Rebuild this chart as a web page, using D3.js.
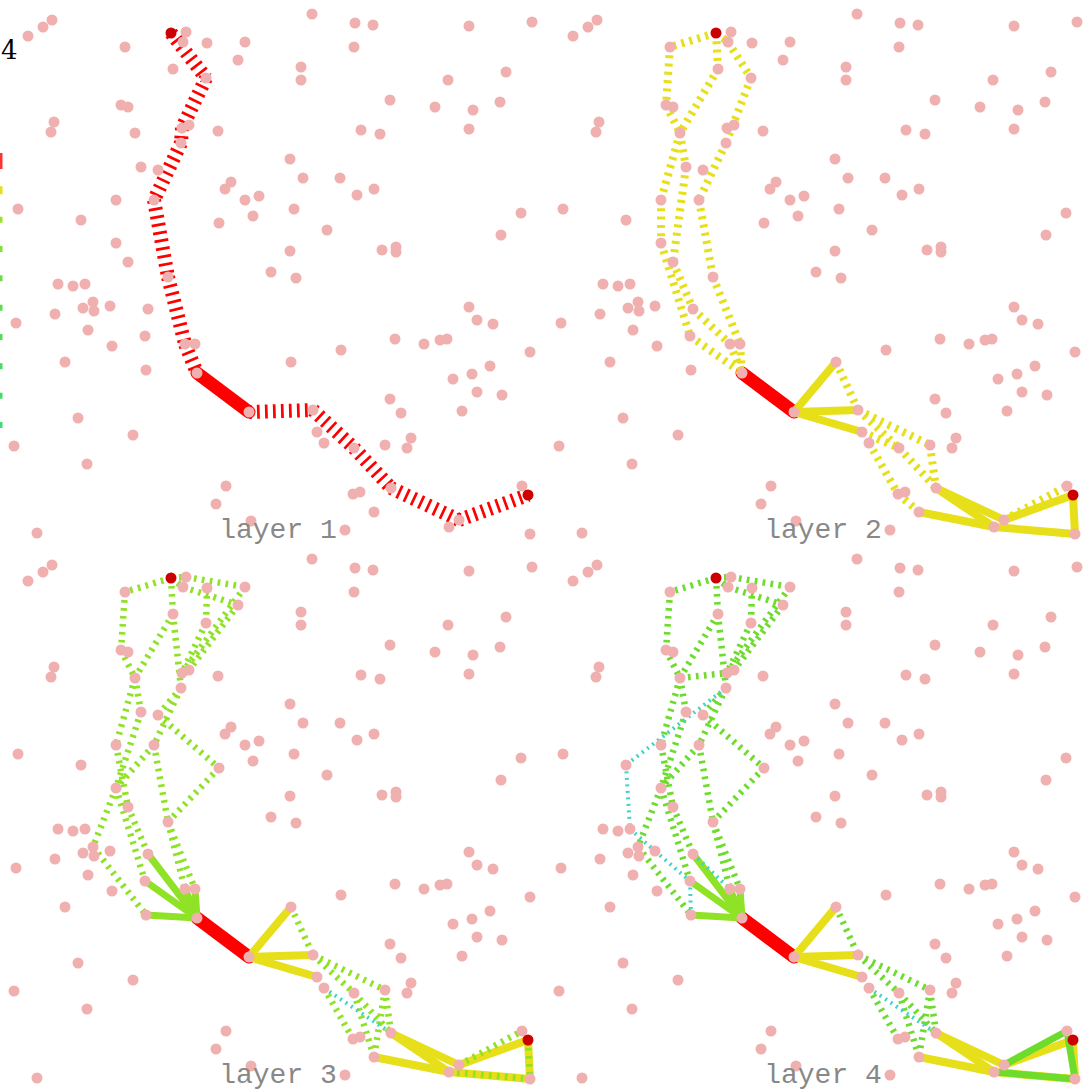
<!DOCTYPE html>
<html>
<head>
<meta charset="utf-8">
<script src="https://cdn.jsdelivr.net/npm/d3@7"></script>
<style>
body { margin:0; background:#fff; }
svg { display:block; }
</style>
</head>
<body>
<div id="chart"></div>
<script>
var width = 1090;
var height = 1090;
var panelSize = 545;

// panel titles
var layerNames = ["layer 1", "layer 2", "layer 3", "layer 4"];

// legend entries (layers), only the right tip shows at the page edge
var legendLayers = [1, 2, 3, 4, 5, 6, 7, 8, 9, 10];
var legendTitle = "4";

// scattered nodes, same for every panel (x, y in panel units 0..545)
var points = [
 [28,36],[43,27],[52,20],[125,47],[186,32],[183,42],[207,43],[245,42],[238,60],[173,69],
 [206,78],[121,105],[128,107],[54,122],[51,132],[135,133],[189,125],[182,128],[218,131],[181,143],
 [141,167],[158,170],[231,182],[225,189],[245,200],[259,196],[253,216],[219,223],[116,200],[154,200],
 [18,209],[81,220],[116,243],[128,262],[168,277],[271,272],
 [58,284],[73,286],[85,284],[93,302],[83,308],[94,311],[110,306],[148,309],[55,314],[16,323],
 [88,330],[145,336],[112,346],[185,344],[195,344],[65,362],[146,370],[197,373],[249,412],[78,418],
 [133,435],[14,446],[87,464],[226,486],[216,504],[251,521],[37,533],
 [296,278],[469,307],[477,320],[493,324],[395,339],[424,344],[440,340],[447,339],[341,350],[530,352],
 [291,362],[490,366],[472,374],[453,379],[477,392],[502,395],[390,399],[401,413],[462,411],[313,410],
 [317,432],[324,443],[354,448],[411,438],[407,448],[385,445],[391,488],[353,494],[360,492],[374,512],
 [459,520],[449,527],[522,486],[345,530],[530,534],
 [312,14],[355,23],[373,25],[469,26],[532,22],[354,47],[301,67],[301,80],[448,80],[506,72],
 [390,100],[435,107],[473,110],[500,102],[361,130],[380,134],[469,129],[290,159],[303,178],[340,178],
 [357,195],[374,189],[294,209],[327,230],[521,213],[501,235],[290,251],[382,250],[396,247],[396,252]
];

var source = [171,33];
var target = [528,495];

// chosen edges: [layer, x1, y1, x2, y2], drawn solid from that layer on
var chosenEdges = [
 [1,197,373,249,412],
 [2,249,412,291,362],[2,249,412,313,410],[2,249,412,317,432],
 [2,391,488,459,520],[2,391,488,449,527],[2,374,512,449,527],[2,449,527,530,534],
 [2,459,520,528,495],[2,528,495,530,534],
 [3,197,373,148,309],[3,197,373,145,336],[3,197,373,146,370],[3,197,373,185,344],[3,197,373,195,344],
 [4,459,520,522,486],[4,522,486,530,534],[4,449,527,530,534]
];

// candidate edges: [panel, colour layer, x1, y1, x2, y2], drawn hatched in that panel only
var candidateEdges = [
 // layer 1
 [1,1,171,33,206,78],[1,1,206,78,182,128],[1,1,182,128,181,143],[1,1,181,143,154,200],
 [1,1,154,200,168,277],[1,1,168,277,185,344],[1,1,185,344,197,373],
 [1,1,249,412,313,410],[1,1,313,410,354,448],[1,1,354,448,391,488],[1,1,391,488,459,520],
 [1,1,459,520,528,495],
 // layer 2
 [2,2,171,33,125,47],[2,2,125,47,121,105],[2,2,121,105,135,133],[2,2,171,33,173,69],
 [2,2,173,69,135,133],[2,2,135,133,116,200],[2,2,116,200,116,243],[2,2,135,133,141,167],
 [2,2,141,167,128,262],[2,2,128,262,148,309],[2,2,148,309,185,344],[2,2,185,344,197,373],
 [2,2,116,243,145,336],[2,2,145,336,197,373],[2,2,171,33,183,42],[2,2,183,42,206,78],
 [2,2,206,78,181,143],[2,2,181,143,154,200],[2,2,154,200,168,277],[2,2,168,277,195,344],
 [2,2,195,344,197,373],
 [2,2,291,362,313,410],[2,2,313,410,385,445],[2,2,313,410,354,448],[2,2,317,432,354,448],
 [2,2,324,443,353,494],[2,2,354,448,391,488],[2,2,385,445,391,488],[2,2,353,494,374,512],
 [2,2,459,520,522,486],
 // layer 3
 [3,3,171,33,125,47],[3,3,125,47,121,105],[3,3,121,105,135,133],[3,3,171,33,173,69],
 [3,3,173,69,135,133],[3,3,171,33,186,32],[3,3,171,33,183,42],[3,3,186,32,245,42],
 [3,3,183,42,238,60],[3,3,245,42,182,128],[3,3,238,60,189,125],[3,3,207,43,206,78],
 [3,3,206,78,182,128],[3,3,173,69,181,143],[3,3,181,143,158,170],[3,3,158,170,219,223],
 [3,3,219,223,168,277],[3,3,181,143,154,200],[3,3,154,200,168,277],[3,3,168,277,185,344],
 [3,3,168,277,195,344],[3,3,154,200,116,243],[3,3,135,133,116,200],[3,3,116,200,128,262],
 [3,3,116,243,93,302],[3,3,93,302,146,370],[3,3,128,262,148,309],[3,3,116,243,145,336],
 [3,3,135,133,141,167],[3,3,141,167,116,243],
 [3,3,291,362,313,410],[3,3,313,410,385,445],[3,3,313,410,354,448],[3,3,324,443,353,494],
 [3,3,354,448,391,488],[3,3,385,445,391,488],[3,3,354,448,374,512],[3,3,385,445,374,512],
 [3,5,324,443,391,488],
 [3,3,459,520,522,486],[3,3,449,527,530,534],[3,3,528,495,530,534],
 // layer 4
 [4,4,171,33,125,47],[4,4,125,47,121,105],[4,4,121,105,135,133],[4,4,171,33,173,69],
 [4,4,173,69,135,133],[4,4,171,33,186,32],[4,4,171,33,183,42],[4,4,186,32,245,42],
 [4,4,183,42,238,60],[4,4,245,42,182,128],[4,4,238,60,189,125],[4,4,207,43,206,78],
 [4,4,206,78,182,128],[4,4,173,69,181,143],[4,4,181,143,158,170],[4,4,158,170,219,223],
 [4,4,219,223,168,277],[4,4,181,143,154,200],[4,4,154,200,168,277],[4,4,168,277,185,344],
 [4,4,168,277,195,344],[4,4,154,200,116,243],[4,4,135,133,116,200],[4,4,116,200,128,262],
 [4,4,116,243,93,302],[4,4,93,302,146,370],[4,4,128,262,148,309],[4,4,116,243,145,336],
 [4,4,135,133,141,167],[4,4,141,167,116,243],[4,4,135,133,182,128],
 [4,5,181,143,81,220],[4,5,81,220,85,284],[4,5,85,284,110,306],[4,5,110,306,145,336],
 [4,5,145,336,146,370],[4,5,148,309,185,344],
 [4,4,291,362,313,410],[4,4,313,410,385,445],[4,4,313,410,354,448],[4,4,324,443,353,494],
 [4,4,354,448,391,488],[4,4,385,445,391,488],[4,4,354,448,374,512],[4,4,385,445,374,512],
 [4,5,324,443,391,488]
];

// styles
var layerColor = d3.scaleOrdinal()
  .domain([1,2,3,4,5,6,7,8,9,10])
  .range(["#ff0000","#e6df1a","#8fe226","#6edc2c","#3fd4c8","#55db55","#4ddb62","#47da70","#42d97e","#3ed98c"]);
var legendColor = d3.scaleOrdinal()
  .domain([1,2,3,4,5,6,7,8,9,10])
  .range(["#ff3333","#e6df1a","#9be22c","#84e038","#6cde44","#5cdd50","#52dc5a","#4adb63","#45db6b","#42da72"]);
var solidWidth = {1:13, 2:8, 3:7, 4:7};
var hatchWidth = {1:14, 2:8, 3:6.5, 4:6.5, 5:4};
var hatchDash = {1:"2.7,5.3", 2:"3,5.3", 3:"2.7,5.3", 4:"2.7,5.3", 5:"2,4.5"};

var svg = d3.select("#chart").append("svg").attr("width", width).attr("height", height);

function drawPanel(p){
	var ox = ((p-1) % 2) * panelSize;
	var oy = Math.floor((p-1) / 2) * panelSize;
	var x = d3.scaleLinear().domain([0, panelSize]).range([ox, ox + panelSize]);
	var y = d3.scaleLinear().domain([0, panelSize]).range([oy, oy + panelSize]);
	var g = svg.append("g").attr("class", "panel" + p);

	// edges chosen in this or earlier layers
	g.append("g").selectAll("line")
		.data(chosenEdges.filter(function(d){ return d[0] <= p; }))
		.enter().append("line")
			.attr("x1", function(d){ return x(d[1]); })
			.attr("y1", function(d){ return y(d[2]); })
			.attr("x2", function(d){ return x(d[3]); })
			.attr("y2", function(d){ return y(d[4]); })
			.attr("stroke", function(d){ return layerColor(d[0]); })
			.attr("stroke-width", function(d){ return solidWidth[d[0]]; })
			.attr("stroke-linecap", "round");

	// candidate edges of this layer
	g.append("g").selectAll("line")
		.data(candidateEdges.filter(function(d){ return d[0] == p; }))
		.enter().append("line")
			.attr("x1", function(d){ return x(d[2]); })
			.attr("y1", function(d){ return y(d[3]); })
			.attr("x2", function(d){ return x(d[4]); })
			.attr("y2", function(d){ return y(d[5]); })
			.attr("stroke", function(d){ return layerColor(d[1]); })
			.attr("stroke-width", function(d){ return hatchWidth[d[1]]; })
			.attr("stroke-dasharray", function(d){ return hatchDash[d[1]]; });

	g.append("g").selectAll("circle")
		.data(points)
		.enter().append("circle")
			.attr("cx", function(d){ return x(d[0]); })
			.attr("cy", function(d){ return y(d[1]); })
			.attr("r", 5.5)
			.attr("fill", "#f0b0b0");

	g.append("g").selectAll("circle")
		.data([source, target])
		.enter().append("circle")
			.attr("cx", function(d){ return x(d[0]); })
			.attr("cy", function(d){ return y(d[1]); })
			.attr("r", 5.5)
			.attr("fill", "#cc0000");

	g.append("text")
		.attr("x", x(278))
		.attr("y", y(538))
		.attr("text-anchor", "middle")
		.attr("font-family", "'Liberation Mono', 'Courier New', monospace")
		.attr("font-size", 28)
		.attr("fill", "#888888")
		.text(layerNames[p-1]);
}

for (var p = 1; p <= 4; p++){
	drawPanel(p);
}

// legend, mostly off the page on the left
var ly = d3.scalePoint().domain(legendLayers).range([161, 425]);
var legend = svg.append("g").attr("class", "legend");
legend.selectAll("line")
	.data(legendLayers)
	.enter().append("line")
		.attr("x1", -40)
		.attr("x2", 2.5)
		.attr("y1", function(d){ return ly(d); })
		.attr("y2", function(d){ return ly(d); })
		.attr("stroke", function(d){ return legendColor(d); })
		.attr("stroke-width", function(d){ return d == 1 ? 16 : (d == 2 ? 8 : 6); });
legend.append("text")
	.attr("x", 1)
	.attr("y", 59)
	.attr("font-family", "'DejaVu Serif', serif")
	.attr("font-size", 26)
	.attr("fill", "#000")
	.text(legendTitle);
</script>
</body>
</html>
